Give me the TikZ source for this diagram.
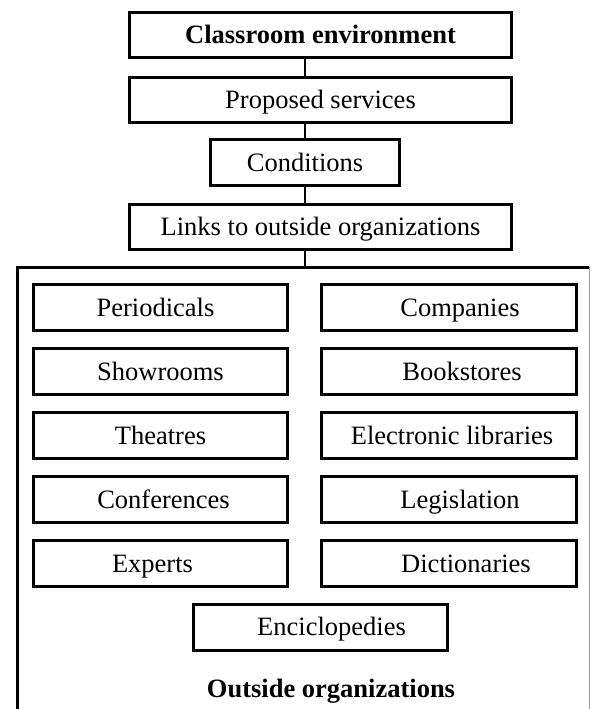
\documentclass[tikz,border=0pt]{standalone}
\usepackage{fontspec}
\setmainfont{Liberation Serif}
\begin{document}
\begin{tikzpicture}[x=1pt,y=-1pt,
  box/.style={draw, rectangle, line width=3pt, inner sep=0pt,
    text height=18pt, text depth=1pt,
    font=\fontsize{26.5}{30}\selectfont},
  wide/.style={box, minimum width=382pt, minimum height=45pt},
  cell/.style={box, minimum width=254.5pt, minimum height=46pt},
  link/.style={line width=2.4pt},
  frame/.style={line width=3pt},
]
\useasboundingbox (0,0) rectangle (592,709);

% main chain
\node[wide, font=\fontsize{26.5}{30}\selectfont\bfseries] (classroom) at (320.5,35) {Classroom environment};
\node[wide] (proposed) at (320.5,99.5) {Proposed services};
\node[box, minimum width=189.5pt, minimum height=46.5pt] (conditions) at (305,162.5) {Conditions};
\node[wide] (links) at (320.5,226.5) {Links to outside organizations};

% outer frame of the organizations
\coordinate (frameTL) at (17,267);
\coordinate (frameTR) at (589,267);
\coordinate (frameBL) at (17,720);
\coordinate (frameBR) at (589,720);
\begin{scope}
  \clip (0,0) rectangle (592,709);
  \draw[frame] (frameBL) -- (frameTL) -- (frameTR);
  \draw[line width=0.8pt, black!40] (frameTR) -- (frameBR);
\end{scope}

% connectors
\draw[link] (classroom.south -| conditions.center) -- (proposed.north -| conditions.center);
\draw[link] (proposed.south -| conditions.center) -- (conditions.north);
\draw[link] (conditions.south) -- (links.north -| conditions.center);
\draw[link] (links.south -| conditions.center) -- (conditions.center |- frameTL);

% organizations grid
\node[cell] (periodicals) at (160.5,307.5) {Periodicals\hspace*{10pt}};
\node[cell] (companies)   at (449,307.5)   {\hspace*{22pt}Companies};
\node[cell] (showrooms)   at (160.5,371.5) {Showrooms};
\node[cell] (bookstores)  at (449,371.5)   {\hspace*{26pt}Bookstores};
\node[cell] (theatres)    at (160.5,435.5) {Theatres};
\node[cell] (elibraries)  at (449,435.5)   {\hspace*{6pt}Electronic libraries};
\node[cell] (conferences) at (160.5,499.5) {\hspace*{6pt}Conferences};
\node[cell] (legislation) at (449,499.5)   {\hspace*{22pt}Legislation};
\node[cell] (experts)     at (160.5,563.5) {Experts\hspace*{16pt}};
\node[cell] (dictionaries) at (449,563.5)  {\hspace*{34pt}Dictionaries};
\node[cell] (enciclopedies) at (320.5,627) {\hspace*{22pt}Enciclopedies};

\node[inner sep=0pt, text height=18pt, text depth=1pt,
  font=\fontsize{26.5}{30}\selectfont\bfseries] (outside) at (331,689) {Outside organizations};
\end{tikzpicture}
\end{document}
